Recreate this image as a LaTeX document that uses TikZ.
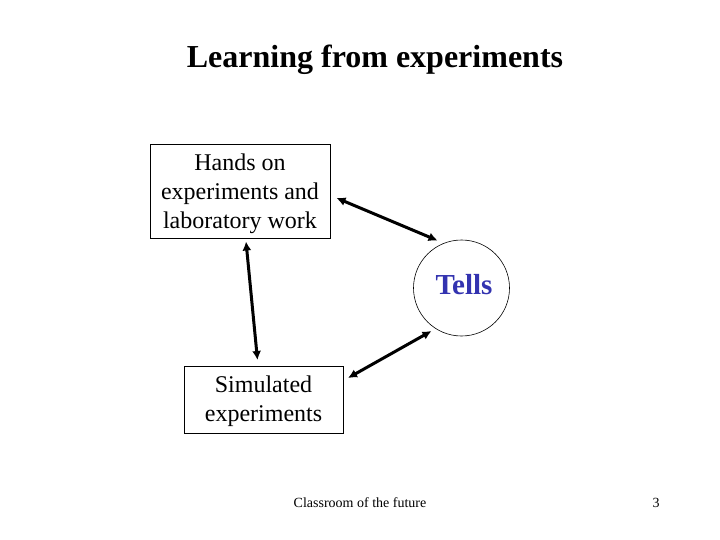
\documentclass[tikz,border=0pt]{standalone}
\usepackage{fontspec}
\setmainfont{Liberation Serif}
\usetikzlibrary{arrows.meta}
\definecolor{tellblue}{HTML}{3333B0}
\begin{document}
\begin{tikzpicture}[x=1pt,y=-1pt,
  box/.style={draw=black,line width=0.8pt,inner sep=0pt},
  boxtext/.style={align=center,font=\fontsize{24}{29}\selectfont,inner sep=0pt},
  link/.style={line width=3pt,{Latex[length=9pt,width=9pt]}-{Latex[length=9pt,width=9pt]}}]
\useasboundingbox[fill=white] (0,0) rectangle (720,540);
\node[font=\fontsize{32}{38}\selectfont\bfseries] (title) at (375,60) {Learning from experiments};
\node[box,minimum width=180pt,minimum height=94pt] (hands) at (240,191) {};
\node[boxtext] (handstext) at (240,194) {Hands on\\experiments and\\laboratory work};
\node[box,minimum width=159pt,minimum height=67pt] (sim) at (263.5,399.5) {};
\node[boxtext] (simtext) at (263.5,401.5) {Simulated\\experiments};
\node[draw=black,line width=0.6pt,circle,minimum size=96pt,inner sep=0pt] (tells) at (461.5,288) {};
\node[text=tellblue,font=\fontsize{29}{34}\selectfont\bfseries] (tellstext) at (464,285) {Tells};
\coordinate (a1s) at (336.5,198);
\coordinate (a1e) at (437.5,240.5);
\coordinate (a2s) at (246,241.5);
\coordinate (a2e) at (257.5,360);
\coordinate (a3s) at (348,378);
\coordinate (a3e) at (431.5,331);
\draw[link] (a1s) -- (a1e);
\draw[link] (a2s) -- (a2e);
\draw[link] (a3s) -- (a3e);
\node[font=\fontsize{14}{16}\selectfont] (foot) at (360,503) {Classroom of the future};
\node[font=\fontsize{14}{16}\selectfont] (num) at (656,503) {3};
\end{tikzpicture}
\end{document}
